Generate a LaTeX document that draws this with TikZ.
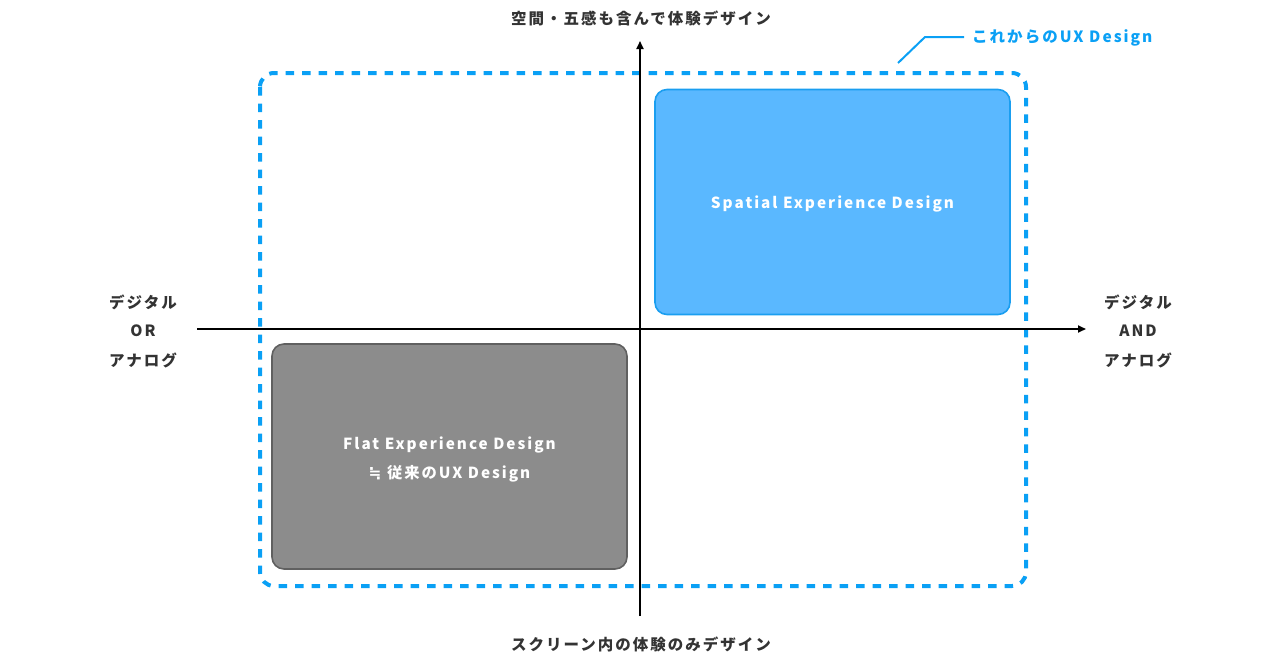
\documentclass[tikz,border=0pt]{standalone}
\usepackage{fontspec}
\setmainfont{Noto Sans CJK JP}[LetterSpace=13]
\newfontfamily\symfnt{DejaVu Sans}[LetterSpace=13]
\usetikzlibrary{arrows.meta}
\definecolor{uxblue}{HTML}{0AA0F5}
\definecolor{spfill}{HTML}{5AB8FF}
\definecolor{spline}{HTML}{1A9EF0}
\definecolor{flfill}{HTML}{8C8C8C}
\definecolor{flline}{HTML}{606060}
\definecolor{txt}{HTML}{333333}
\tikzset{
  lbl/.style={text=txt, font=\fontsize{15.5}{15.5}\selectfont\bfseries, inner sep=0pt, align=center},
  boxtxt/.style={text=white, font=\fontsize{15.3}{29}\selectfont\bfseries, align=center, inner sep=0pt},
  axis/.style={line width=1.8pt, black, -{Triangle[length=8pt,width=7pt]}},
  qbox/.style={rounded corners=12pt, line width=1.6pt, minimum width=355pt, minimum height=225pt, inner sep=0pt},
}
\begin{document}
\begin{tikzpicture}[x=1pt,y=-1pt]
\useasboundingbox (0,0) rectangle (1280,670);
% dashed frame
\draw[uxblue, line width=4pt, dash pattern=on 8.5pt off 8pt, rounded corners=14pt] (260,73) rectangle (1026,586);
% boxes
\node[qbox, draw=spline, fill=spfill] (spatial) at (832.5,202) {};
\node[qbox, draw=flline, fill=flfill] (flat) at (449.5,456.5) {};
\node[boxtxt] (spatialtxt) at ([yshift=-2pt]spatial.center) {Spatial Experience Design};
\node[boxtxt] (flattxt) at ([yshift=-2.5pt]flat.center) {Flat Experience Design\\{\symfnt ≒} 従来のUX Design};
% axes
\coordinate (xl) at (197,329);
\coordinate (xr) at (1086,329);
\coordinate (yb) at (640,616);
\coordinate (yt) at (640,41);
\draw[axis] (xl) -- (xr);
\draw[axis] (yb) -- (yt);
% labels
\node[lbl] (top) at (641,18) {空間・五感も含んで体験デザイン};
\node[lbl] (bottom) at (641,644) {スクリーン内の体験のみデザイン};
\node[lbl] (l1) at (143,302) {デジタル};
\node[lbl] (l2) at (143,331) {OR};
\node[lbl] (l3) at (143,360) {アナログ};
\node[lbl] (r1) at (1138,302) {デジタル};
\node[lbl] (r2) at (1138,331) {AND};
\node[lbl] (r3) at (1138,360) {アナログ};
% callout
\node[lbl, text=uxblue, anchor=west] (future) at (972,38) {これからのUX Design};
\coordinate (c0) at (898,63);
\coordinate (c1) at (925,37);
\draw[uxblue, line width=2pt] (c0) -- (c1) -- (964,37);
\end{tikzpicture}
\end{document}
